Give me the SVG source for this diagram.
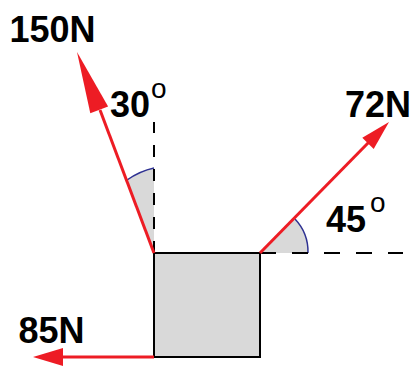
<svg xmlns="http://www.w3.org/2000/svg" width="417" height="367" viewBox="0 0 417 367">
<style>
.lbl{font-family:"Liberation Sans",Arial,sans-serif;font-weight:bold;font-size:36px;fill:#000}
.deg{font-family:"Liberation Sans",Arial,sans-serif;font-size:28px;fill:#000}
.force{stroke:#ed1c24;stroke-width:3;fill:none}
.head{fill:#ed1c24;stroke:none}
.ref{stroke:#000;stroke-width:2;fill:none}
.sector{fill:#d9d9d9;stroke:none}
.arc{stroke:#2e3192;stroke-width:1.5;fill:none}
</style>
<rect width="417" height="367" fill="#fff"/>
<g id="angles">
<path class="sector" d="M154,253 L127,180 Q140,171 154,168 Z"/>
<path class="arc" d="M127,180 Q140,171 154,168"/>
<path class="sector" d="M260,253 L295,219 A48,48 0 0 1 308,253 Z"/>
<path class="arc" d="M295,219 A48,48 0 0 1 308,253"/>
</g>
<g id="reference-lines">
<path class="ref" d="M154,253 V122" stroke-dasharray="12 12"/>
<path class="ref" d="M260,253 H403" stroke-dasharray="16 16"/>
</g>
<g id="block">
<rect x="154" y="253" width="106" height="104" fill="#d9d9d9" stroke="#000" stroke-width="2"/>
</g>
<g id="connectors">
<g id="f150">
<line class="force" x1="154" y1="253" x2="100" y2="110"/>
<polygon class="head" points="77,52 108.1,106.5 90.3,113.3"/>
</g>
<g id="f72">
<line class="force" x1="260" y1="253" x2="369" y2="142" stroke-width="2.5"/>
<polygon class="head" points="389,122 373.7,149 362.3,137.8"/>
</g>
<g id="f85">
<line class="force" x1="154" y1="357" x2="60" y2="357"/>
<polygon class="head" points="33,357 63,348 63,366"/>
</g>
</g>
<g id="labels">
<text class="lbl" x="9.5" y="42">150N</text>
<text class="lbl" x="345" y="117">72N</text>
<text class="lbl" x="18.5" y="343">85N</text>
<text class="lbl" x="110" y="117">30</text>
<text class="deg" x="151" y="98">o</text>
<text class="lbl" x="326" y="232">45</text>
<text class="deg" x="370" y="212">o</text>
</g>
</svg>
